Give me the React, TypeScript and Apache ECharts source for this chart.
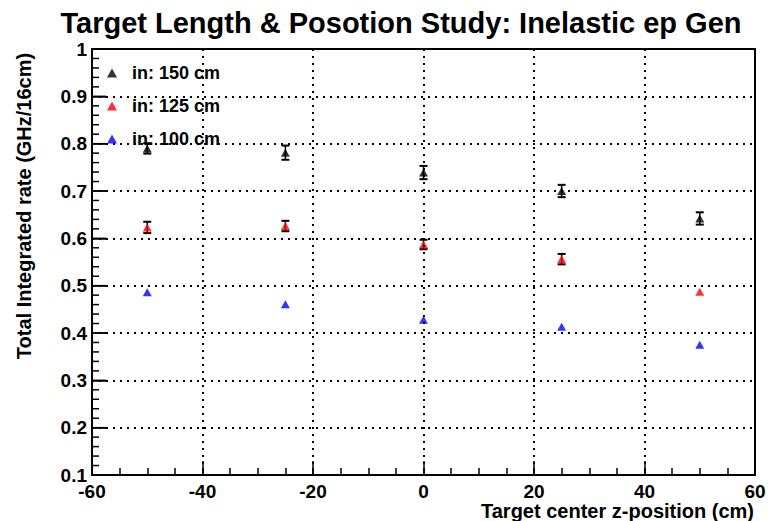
import React, { useEffect, useRef } from "react";
import * as echarts from "echarts";

const zPositions = [-50, -25, 0, 25, 50];
const rate150 = [0.79, 0.781, 0.739, 0.7, 0.642];
const err150 = [0.011, 0.015, 0.014, 0.013, 0.013];
const rate125 = [0.623, 0.626, 0.587, 0.556, 0.487];
const err125 = [0.012, 0.011, 0.01, 0.011, 0];
const rate100 = [0.486, 0.461, 0.428, 0.413, 0.375];
const err100 = [0, 0, 0, 0, 0];

const seriesNames = ["in: 150 cm", "in: 125 cm", "in: 100 cm"];
const seriesColors = ["#000000", "#ff0000", "#0000ff"];

const titleText = "Target Length & Posotion Study: Inelastic ep Gen";
const xTitle = "Target center z-position (cm)";
const yTitle = "Total Integrated rate (GHz/16cm)";

// y-axis tick positions (major every 0.1, minor every 0.02)
const yTickSteps = Array.from({ length: 46 }, (_, k) => k);

const FONT = '"Liberation Sans", Arial, Helvetica, sans-serif';

const frameLine = { show: true, onZero: false, lineStyle: { color: "#000", width: 2 } };
const tickStyle = { color: "#000", width: 1.5 };

export default function App() {
  const ref = useRef<HTMLDivElement>(null);
  useEffect(() => {
    if (!ref.current) return;
    const chart = echarts.init(ref.current, undefined, { renderer: "svg" });
    const rates = [rate150, rate125, rate100];
    const errs = [err150, err125, err100];

    const errSeries = rates.map((r, i) => ({
      type: "custom",
      name: seriesNames[i] + " err",
      z: 2,
      silent: true,
      xAxisIndex: 0,
      yAxisIndex: 0,
      data: zPositions
        .map((z, j) => [z, r[j] - errs[i][j], r[j] + errs[i][j], errs[i][j]])
        .filter((d) => d[3] > 0),
      encode: { x: 0, y: [1, 2] },
      renderItem: (params: any, api: any) => {
        const x = api.value(0);
        const top = api.coord([x, api.value(2)]);
        const bot = api.coord([x, api.value(1)]);
        return {
          type: "group",
          children: [
            { type: "line", shape: { x1: top[0], y1: top[1], x2: bot[0], y2: bot[1] }, style: { stroke: "#000", lineWidth: 1.5 } },
            { type: "line", shape: { x1: top[0] - 4, y1: top[1], x2: top[0] + 4, y2: top[1] }, style: { stroke: "#000", lineWidth: 2 } },
            { type: "line", shape: { x1: bot[0] - 4, y1: bot[1], x2: bot[0] + 4, y2: bot[1] }, style: { stroke: "#000", lineWidth: 2 } },
          ],
        };
      },
    }));

    const yTickSeries = {
      type: "custom",
      name: "yticks",
      z: 20,
      silent: true,
      clip: false,
      xAxisIndex: 0,
      yAxisIndex: 0,
      data: yTickSteps.map((k) => [-60, 0.1 + k * 0.02, k % 5 === 0 ? 1 : 0]),
      encode: { x: 0, y: 1 },
      renderItem: (params: any, api: any) => {
        const p = api.coord([api.value(0), api.value(1)]);
        const len = api.value(2) === 1 ? 14 : 7;
        return {
          type: "line",
          shape: { x1: p[0], y1: p[1], x2: p[0] + len, y2: p[1] },
          style: { stroke: "#000", lineWidth: 1.5 },
        };
      },
    };

    const scatterSeries = rates.map((r, i) => ({
      type: "scatter",
      name: seriesNames[i],
      z: 5,
      xAxisIndex: 0,
      yAxisIndex: 0,
      symbol: "triangle",
      symbolSize: [9, 8],
      itemStyle: { color: seriesColors[i] },
      data: zPositions.map((z, j) => [z, r[j]]),
    }));

    chart.setOption({
      animation: false,
      backgroundColor: "#ffffff",
      grid: { left: 92, top: 49, width: 663, height: 426 },
      legend: {
        data: seriesNames.map((n, i) => ({ name: n, icon: "triangle", itemStyle: { color: seriesColors[i] } })),
        orient: "vertical",
        left: 102,
        top: 59,
        itemWidth: 10,
        itemHeight: 9,
        itemGap: 15,
        selectedMode: false,
        textStyle: {
          fontFamily: FONT,
          fontWeight: "bold",
          fontSize: 18,
          color: "#000",
          lineHeight: 18,
          padding: [0, 0, 0, 10],
        },
      },
      xAxis: [
        {
          type: "value",
          position: "bottom",
          min: -60,
          max: 60,
          interval: 20,
          z: 10,
          axisLine: frameLine,
          axisTick: { show: true, inside: true, length: 14, lineStyle: tickStyle },
          minorTick: { show: false },
          splitLine: { show: true, lineStyle: { color: "#000", width: 2, type: [2, 5] } },
          axisLabel: {
            show: true,
            margin: 7,
            showMinLabel: true,
            showMaxLabel: true,
            color: "#000",
            fontFamily: FONT,
            fontWeight: "bold",
            fontSize: 19,
          },
        },
        {
          type: "value",
          position: "bottom",
          min: -60,
          max: 60,
          interval: 5,
          z: 10,
          axisLine: { show: false, onZero: false },
          axisTick: { show: true, inside: true, length: 7, lineStyle: tickStyle },
          splitLine: { show: false },
          axisLabel: { show: false },
        },
        {
          type: "value",
          position: "top",
          min: -60,
          max: 60,
          interval: 20,
          z: 10,
          axisLine: frameLine,
          axisTick: { show: false },
          splitLine: { show: false },
          axisLabel: { show: false },
        },
      ],
      yAxis: [
        {
          type: "value",
          position: "left",
          min: 0.1,
          max: 1,
          interval: 0.1,
          z: 10,
          axisLine: frameLine,
          axisTick: { show: true, inside: true, length: 14, lineStyle: tickStyle },
          minorTick: { show: false },
          splitLine: { show: true, lineStyle: { color: "#000", width: 2, type: [2, 5] } },
          axisLabel: {
            show: true,
            margin: 5,
            showMinLabel: true,
            showMaxLabel: true,
            color: "#000",
            fontFamily: FONT,
            fontWeight: "bold",
            fontSize: 19,
            formatter: (v: number) => {
              const r = Math.round(v * 10) / 10;
              return r === 1 ? "1" : r.toFixed(1);
            },
          },
        },
        {
          type: "value",
          position: "right",
          min: 0.1,
          max: 1,
          interval: 0.1,
          z: 10,
          axisLine: frameLine,
          axisTick: { show: false },
          splitLine: { show: false },
          axisLabel: { show: false },
        },
      ],
      graphic: [
        {
          type: "text",
          x: 401,
          y: 23,
          style: {
            text: titleText,
            font: `bold 29px ${FONT}`,
            fill: "#000",
            textAlign: "center",
            textVerticalAlign: "middle",
          },
        },
        {
          type: "text",
          x: 754,
          y: 511,
          style: {
            text: xTitle,
            font: `bold 20px ${FONT}`,
            fill: "#000",
            textAlign: "right",
            textVerticalAlign: "middle",
          },
        },
        {
          type: "text",
          x: 24,
          y: 206,
          rotation: Math.PI / 2,
          style: {
            text: yTitle,
            font: `bold 20px ${FONT}`,
            fill: "#000",
            textAlign: "center",
            textVerticalAlign: "middle",
          },
        },
      ],
      series: [yTickSeries, ...errSeries, ...scatterSeries],
    });
    return () => chart.dispose();
  }, []);
  return (
    <div
      ref={ref}
      style={{ position: "fixed", left: 0, top: 0, width: 769, height: 521 }}
    />
  );
}
